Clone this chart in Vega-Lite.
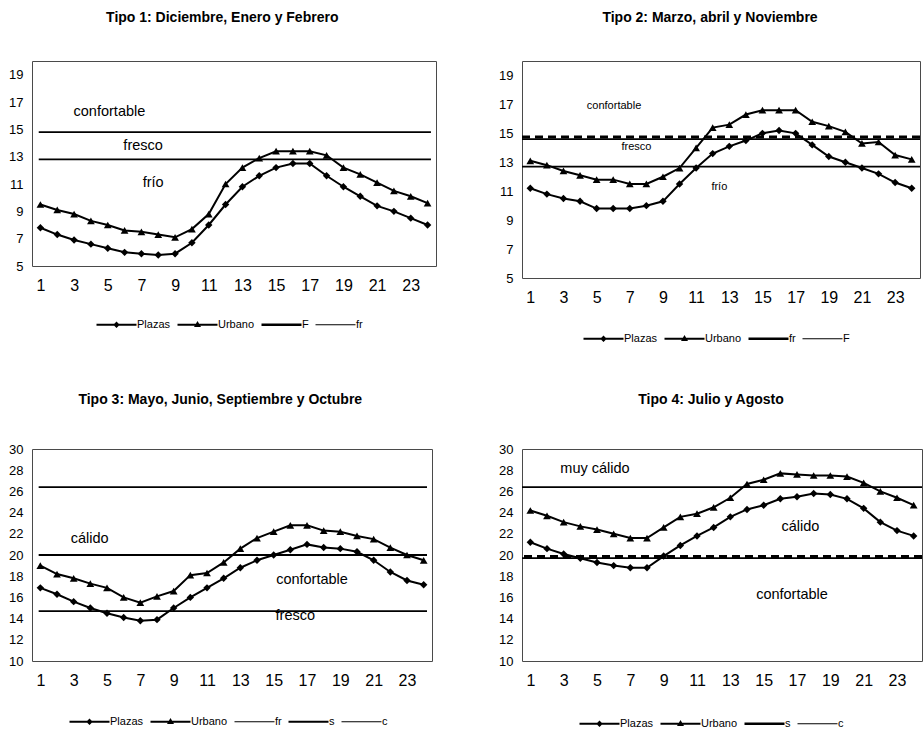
{
  "$schema": "https://vega.github.io/schema/vega-lite/v6.json",
  "background": "white",
  "padding": {"left": 8, "top": 10, "right": 0, "bottom": 0},
  "config": {
    "font": "Liberation Sans",
    "view": {"stroke": "#4a4a4a", "strokeWidth": 1},
    "axis": {"domain": false, "ticks": false, "grid": false, "labelColor": "black", "labelFont": "Liberation Sans", "labelFlush": false, "labelOverlap": false},
    "axisX": {"labelFontSize": 16, "labelPadding": 11},
    "axisY": {"labelFontSize": 13, "labelPadding": 9},
    "title": {"fontSize": 14, "fontWeight": "bold", "color": "black", "offset": 36, "anchor": "middle", "frame": "bounds", "font": "Liberation Sans"},
    "legend": {"labelFontSize": 11, "labelColor": "black", "labelFont": "Liberation Sans", "labelOffset": 15, "columnPadding": 4, "symbolSize": 100, "symbolStrokeWidth": 1, "symbolStrokeColor": "black", "symbolFillColor": "black", "orient": "none", "direction": "horizontal"}
  },
  "datasets": {
    "p1": [
      {"h":1,"s":"Plazas","t":7.8},{"h":2,"s":"Plazas","t":7.3},{"h":3,"s":"Plazas","t":6.9},{"h":4,"s":"Plazas","t":6.6},{"h":5,"s":"Plazas","t":6.3},{"h":6,"s":"Plazas","t":6.0},{"h":7,"s":"Plazas","t":5.9},{"h":8,"s":"Plazas","t":5.8},{"h":9,"s":"Plazas","t":5.9},{"h":10,"s":"Plazas","t":6.7},{"h":11,"s":"Plazas","t":8.0},{"h":12,"s":"Plazas","t":9.5},{"h":13,"s":"Plazas","t":10.8},{"h":14,"s":"Plazas","t":11.6},{"h":15,"s":"Plazas","t":12.2},{"h":16,"s":"Plazas","t":12.5},{"h":17,"s":"Plazas","t":12.5},{"h":18,"s":"Plazas","t":11.6},{"h":19,"s":"Plazas","t":10.8},{"h":20,"s":"Plazas","t":10.1},{"h":21,"s":"Plazas","t":9.4},{"h":22,"s":"Plazas","t":9.0},{"h":23,"s":"Plazas","t":8.5},{"h":24,"s":"Plazas","t":8.0},
      {"h":1,"s":"Urbano","t":9.5},{"h":2,"s":"Urbano","t":9.1},{"h":3,"s":"Urbano","t":8.8},{"h":4,"s":"Urbano","t":8.3},{"h":5,"s":"Urbano","t":8.0},{"h":6,"s":"Urbano","t":7.6},{"h":7,"s":"Urbano","t":7.5},{"h":8,"s":"Urbano","t":7.3},{"h":9,"s":"Urbano","t":7.1},{"h":10,"s":"Urbano","t":7.7},{"h":11,"s":"Urbano","t":8.8},{"h":12,"s":"Urbano","t":11.0},{"h":13,"s":"Urbano","t":12.2},{"h":14,"s":"Urbano","t":12.9},{"h":15,"s":"Urbano","t":13.4},{"h":16,"s":"Urbano","t":13.4},{"h":17,"s":"Urbano","t":13.4},{"h":18,"s":"Urbano","t":13.1},{"h":19,"s":"Urbano","t":12.2},{"h":20,"s":"Urbano","t":11.7},{"h":21,"s":"Urbano","t":11.1},{"h":22,"s":"Urbano","t":10.5},{"h":23,"s":"Urbano","t":10.1},{"h":24,"s":"Urbano","t":9.6}
    ],
    "p2": [
      {"h":1,"s":"Plazas","t":11.2},{"h":2,"s":"Plazas","t":10.8},{"h":3,"s":"Plazas","t":10.5},{"h":4,"s":"Plazas","t":10.3},{"h":5,"s":"Plazas","t":9.8},{"h":6,"s":"Plazas","t":9.8},{"h":7,"s":"Plazas","t":9.8},{"h":8,"s":"Plazas","t":10.0},{"h":9,"s":"Plazas","t":10.3},{"h":10,"s":"Plazas","t":11.5},{"h":11,"s":"Plazas","t":12.6},{"h":12,"s":"Plazas","t":13.6},{"h":13,"s":"Plazas","t":14.1},{"h":14,"s":"Plazas","t":14.5},{"h":15,"s":"Plazas","t":15.0},{"h":16,"s":"Plazas","t":15.2},{"h":17,"s":"Plazas","t":15.0},{"h":18,"s":"Plazas","t":14.2},{"h":19,"s":"Plazas","t":13.4},{"h":20,"s":"Plazas","t":13.0},{"h":21,"s":"Plazas","t":12.6},{"h":22,"s":"Plazas","t":12.2},{"h":23,"s":"Plazas","t":11.6},{"h":24,"s":"Plazas","t":11.2},
      {"h":1,"s":"Urbano","t":13.1},{"h":2,"s":"Urbano","t":12.8},{"h":3,"s":"Urbano","t":12.4},{"h":4,"s":"Urbano","t":12.1},{"h":5,"s":"Urbano","t":11.8},{"h":6,"s":"Urbano","t":11.8},{"h":7,"s":"Urbano","t":11.5},{"h":8,"s":"Urbano","t":11.5},{"h":9,"s":"Urbano","t":12.0},{"h":10,"s":"Urbano","t":12.6},{"h":11,"s":"Urbano","t":14.0},{"h":12,"s":"Urbano","t":15.4},{"h":13,"s":"Urbano","t":15.6},{"h":14,"s":"Urbano","t":16.3},{"h":15,"s":"Urbano","t":16.6},{"h":16,"s":"Urbano","t":16.6},{"h":17,"s":"Urbano","t":16.6},{"h":18,"s":"Urbano","t":15.8},{"h":19,"s":"Urbano","t":15.5},{"h":20,"s":"Urbano","t":15.1},{"h":21,"s":"Urbano","t":14.3},{"h":22,"s":"Urbano","t":14.4},{"h":23,"s":"Urbano","t":13.5},{"h":24,"s":"Urbano","t":13.2}
    ],
    "p3": [
      {"h":1,"s":"Plazas","t":16.9},{"h":2,"s":"Plazas","t":16.3},{"h":3,"s":"Plazas","t":15.6},{"h":4,"s":"Plazas","t":15.0},{"h":5,"s":"Plazas","t":14.5},{"h":6,"s":"Plazas","t":14.1},{"h":7,"s":"Plazas","t":13.8},{"h":8,"s":"Plazas","t":13.9},{"h":9,"s":"Plazas","t":15.0},{"h":10,"s":"Plazas","t":16.0},{"h":11,"s":"Plazas","t":16.9},{"h":12,"s":"Plazas","t":17.8},{"h":13,"s":"Plazas","t":18.8},{"h":14,"s":"Plazas","t":19.5},{"h":15,"s":"Plazas","t":20.0},{"h":16,"s":"Plazas","t":20.5},{"h":17,"s":"Plazas","t":21.0},{"h":18,"s":"Plazas","t":20.7},{"h":19,"s":"Plazas","t":20.6},{"h":20,"s":"Plazas","t":20.3},{"h":21,"s":"Plazas","t":19.5},{"h":22,"s":"Plazas","t":18.4},{"h":23,"s":"Plazas","t":17.6},{"h":24,"s":"Plazas","t":17.2},
      {"h":1,"s":"Urbano","t":19.0},{"h":2,"s":"Urbano","t":18.2},{"h":3,"s":"Urbano","t":17.8},{"h":4,"s":"Urbano","t":17.3},{"h":5,"s":"Urbano","t":16.9},{"h":6,"s":"Urbano","t":16.0},{"h":7,"s":"Urbano","t":15.5},{"h":8,"s":"Urbano","t":16.1},{"h":9,"s":"Urbano","t":16.6},{"h":10,"s":"Urbano","t":18.1},{"h":11,"s":"Urbano","t":18.3},{"h":12,"s":"Urbano","t":19.3},{"h":13,"s":"Urbano","t":20.6},{"h":14,"s":"Urbano","t":21.6},{"h":15,"s":"Urbano","t":22.2},{"h":16,"s":"Urbano","t":22.8},{"h":17,"s":"Urbano","t":22.8},{"h":18,"s":"Urbano","t":22.3},{"h":19,"s":"Urbano","t":22.2},{"h":20,"s":"Urbano","t":21.8},{"h":21,"s":"Urbano","t":21.5},{"h":22,"s":"Urbano","t":20.7},{"h":23,"s":"Urbano","t":20.0},{"h":24,"s":"Urbano","t":19.5}
    ],
    "p4": [
      {"h":1,"s":"Plazas","t":21.2},{"h":2,"s":"Plazas","t":20.6},{"h":3,"s":"Plazas","t":20.1},{"h":4,"s":"Plazas","t":19.7},{"h":5,"s":"Plazas","t":19.3},{"h":6,"s":"Plazas","t":19.0},{"h":7,"s":"Plazas","t":18.8},{"h":8,"s":"Plazas","t":18.8},{"h":9,"s":"Plazas","t":19.9},{"h":10,"s":"Plazas","t":20.9},{"h":11,"s":"Plazas","t":21.8},{"h":12,"s":"Plazas","t":22.6},{"h":13,"s":"Plazas","t":23.6},{"h":14,"s":"Plazas","t":24.3},{"h":15,"s":"Plazas","t":24.7},{"h":16,"s":"Plazas","t":25.3},{"h":17,"s":"Plazas","t":25.5},{"h":18,"s":"Plazas","t":25.8},{"h":19,"s":"Plazas","t":25.7},{"h":20,"s":"Plazas","t":25.3},{"h":21,"s":"Plazas","t":24.4},{"h":22,"s":"Plazas","t":23.1},{"h":23,"s":"Plazas","t":22.3},{"h":24,"s":"Plazas","t":21.8},
      {"h":1,"s":"Urbano","t":24.2},{"h":2,"s":"Urbano","t":23.7},{"h":3,"s":"Urbano","t":23.1},{"h":4,"s":"Urbano","t":22.7},{"h":5,"s":"Urbano","t":22.4},{"h":6,"s":"Urbano","t":22.0},{"h":7,"s":"Urbano","t":21.6},{"h":8,"s":"Urbano","t":21.6},{"h":9,"s":"Urbano","t":22.6},{"h":10,"s":"Urbano","t":23.6},{"h":11,"s":"Urbano","t":23.9},{"h":12,"s":"Urbano","t":24.5},{"h":13,"s":"Urbano","t":25.4},{"h":14,"s":"Urbano","t":26.7},{"h":15,"s":"Urbano","t":27.1},{"h":16,"s":"Urbano","t":27.7},{"h":17,"s":"Urbano","t":27.6},{"h":18,"s":"Urbano","t":27.5},{"h":19,"s":"Urbano","t":27.5},{"h":20,"s":"Urbano","t":27.4},{"h":21,"s":"Urbano","t":26.8},{"h":22,"s":"Urbano","t":26.0},{"h":23,"s":"Urbano","t":25.4},{"h":24,"s":"Urbano","t":24.7}
    ],
    "r1": [{"n":"F","t":14.8},{"n":"fr","t":12.8}],
    "r2": [{"n":"fr","t":14.75},{"n":"F","t":14.6},{"n":"F","t":12.7}],
    "r3": [{"n":"c","t":26.4},{"n":"s","t":20.0},{"n":"fr","t":14.7}],
    "r4": [{"n":"c","t":26.4},{"n":"s","t":19.85},{"n":"c","t":19.7}],
    "t1": [{"label":"confortable","h":5.1,"t":16.3},{"label":"fresco","h":7.1,"t":13.8},{"label":"frío","h":7.7,"t":11.05}],
    "t2": [{"label":"confortable","h":6.05,"t":16.9},{"label":"fresco","h":7.4,"t":14.05},{"label":"frío","h":12.4,"t":11.3}],
    "t3": [{"label":"cálido","h":3.96,"t":21.5},{"label":"confortable","h":17.3,"t":17.6},{"label":"fresco","h":16.3,"t":14.2}],
    "t4": [{"label":"muy cálido","h":4.88,"t":28.1},{"label":"cálido","h":17.2,"t":22.6},{"label":"confortable","h":16.7,"t":16.2}],
    "leg": [{"s":"Plazas"},{"s":"Urbano"},{"s":"F"},{"s":"fr"},{"s":"s"},{"s":"c"}]
  },
  "columns": 2,
  "bounds": "flush",
  "spacing": {"row": 171, "column": 86},
  "resolve": {"scale": {"x": "independent", "y": "independent", "shape": "independent"}, "axis": {"x": "independent", "y": "independent"}, "legend": {"shape": "independent"}},
  "concat": [
    {
      "width": 404, "height": 205,
      "title": "Tipo 1: Diciembre, Enero y Febrero",
      "layer": [
        {"data": {"name": "r1"}, "mark": {"type": "rule", "color": "black", "strokeWidth": 1.8}, "encoding": {"x": {"datum": 0.9, "type": "quantitative", "scale": {"domain": [0.5, 24.5], "nice": false, "zero": false}, "axis": {"values": [1,3,5,7,9,11,13,15,17,19,21,23], "title": null, "labelOverlap": false}}, "x2": {"datum": 24.2}, "y": {"field": "t", "type": "quantitative", "scale": {"domain": [5, 20], "nice": false, "zero": false}, "axis": {"values": [5,7,9,11,13,15,17,19], "title": null, "labelOverlap": false}}}},
        {"data": {"name": "p1"}, "mark": {"type": "line", "color": "black", "strokeWidth": 2},
         "encoding": {
           "x": {"field": "h", "type": "quantitative", "scale": {"domain": [0.5, 24.5], "nice": false, "zero": false}, "axis": {"values": [1,3,5,7,9,11,13,15,17,19,21,23], "title": null, "labelOverlap": false}},
           "y": {"field": "t", "type": "quantitative", "scale": {"domain": [5, 20], "nice": false, "zero": false}, "axis": {"values": [5,7,9,11,13,15,17,19], "title": null, "labelOverlap": false}},
           "detail": {"field": "s"}}},
        {"data": {"name": "p1"}, "transform": [{"filter": "datum.s === 'Plazas'"}], "mark": {"type": "point", "shape": "diamond", "filled": true, "color": "black", "opacity": 1, "size": 55},
         "encoding": {"x": {"field": "h", "type": "quantitative", "scale": {"domain": [0.5, 24.5], "nice": false, "zero": false}, "axis": {"values": [1,3,5,7,9,11,13,15,17,19,21,23], "title": null, "labelOverlap": false}}, "y": {"field": "t", "type": "quantitative", "scale": {"domain": [5, 20], "nice": false, "zero": false}, "axis": {"values": [5,7,9,11,13,15,17,19], "title": null, "labelOverlap": false}}}},
        {"data": {"name": "p1"}, "transform": [{"filter": "datum.s === 'Urbano'"}], "mark": {"type": "point", "shape": "triangle-up", "filled": true, "color": "black", "opacity": 1, "size": 60},
         "encoding": {"x": {"field": "h", "type": "quantitative", "scale": {"domain": [0.5, 24.5], "nice": false, "zero": false}, "axis": {"values": [1,3,5,7,9,11,13,15,17,19,21,23], "title": null, "labelOverlap": false}}, "y": {"field": "t", "type": "quantitative", "scale": {"domain": [5, 20], "nice": false, "zero": false}, "axis": {"values": [5,7,9,11,13,15,17,19], "title": null, "labelOverlap": false}}}},
        {"data": {"name": "t1"}, "mark": {"type": "text", "fontSize": 14.5, "color": "black", "font": "Liberation Sans"},
         "encoding": {"x": {"field": "h", "type": "quantitative", "scale": {"domain": [0.5, 24.5], "nice": false, "zero": false}, "axis": {"values": [1,3,5,7,9,11,13,15,17,19,21,23], "title": null, "labelOverlap": false}}, "y": {"field": "t", "type": "quantitative", "scale": {"domain": [5, 20], "nice": false, "zero": false}, "axis": {"values": [5,7,9,11,13,15,17,19], "title": null, "labelOverlap": false}}, "text": {"field": "label"}}},
        {"data": {"name": "leg"}, "mark": {"type": "point", "opacity": 0, "filled": true, "color": "black", "size": 100},
         "encoding": {"shape": {"field": "s", "type": "nominal", "scale": {"domain": ["Plazas", "Urbano", "F", "fr"], "range": ["M-4,-0.2H4V0.2H-4Z M0,-0.65L0.65,0L0,0.65L-0.65,0Z", "M-4,-0.2H4V0.2H-4Z M0,-0.75L0.7,0.45L-0.7,0.45Z", "M-4,-0.25H4V0.25H-4Z", "M-4,-0.12H4V0.12H-4Z"]}, "legend": {"title": null, "orient": "none", "legendX": 79, "legendY": 258, "direction": "horizontal"}}}}
      ]
    },
    {
      "width": 398, "height": 217,
      "title": "Tipo 2: Marzo, abril y Noviembre",
      "layer": [
        {"data": {"name": "r2"}, "transform": [{"filter": "datum.n === 'F'"}], "mark": {"type": "rule", "color": "black", "strokeWidth": 1.6}, "encoding": {"y": {"field": "t", "type": "quantitative", "scale": {"domain": [5, 20], "nice": false, "zero": false}, "axis": {"values": [5,7,9,11,13,15,17,19], "title": null, "labelOverlap": false}}}},
        {"data": {"name": "r2"}, "transform": [{"filter": "datum.n === 'fr'"}], "mark": {"type": "rule", "color": "black", "strokeWidth": 3, "strokeDash": [8, 5]}, "encoding": {"y": {"field": "t", "type": "quantitative", "scale": {"domain": [5, 20], "nice": false, "zero": false}, "axis": {"values": [5,7,9,11,13,15,17,19], "title": null, "labelOverlap": false}}}},
        {"data": {"name": "p2"}, "mark": {"type": "line", "color": "black", "strokeWidth": 2},
         "encoding": {
           "x": {"field": "h", "type": "quantitative", "scale": {"domain": [0.5, 24.5], "nice": false, "zero": false}, "axis": {"values": [1,3,5,7,9,11,13,15,17,19,21,23], "title": null, "labelOverlap": false}},
           "y": {"field": "t", "type": "quantitative", "scale": {"domain": [5, 20], "nice": false, "zero": false}, "axis": {"values": [5,7,9,11,13,15,17,19], "title": null, "labelOverlap": false}},
           "detail": {"field": "s"}}},
        {"data": {"name": "p2"}, "transform": [{"filter": "datum.s === 'Plazas'"}], "mark": {"type": "point", "shape": "diamond", "filled": true, "color": "black", "opacity": 1, "size": 55},
         "encoding": {"x": {"field": "h", "type": "quantitative", "scale": {"domain": [0.5, 24.5], "nice": false, "zero": false}, "axis": {"values": [1,3,5,7,9,11,13,15,17,19,21,23], "title": null, "labelOverlap": false}}, "y": {"field": "t", "type": "quantitative", "scale": {"domain": [5, 20], "nice": false, "zero": false}, "axis": {"values": [5,7,9,11,13,15,17,19], "title": null, "labelOverlap": false}}}},
        {"data": {"name": "p2"}, "transform": [{"filter": "datum.s === 'Urbano'"}], "mark": {"type": "point", "shape": "triangle-up", "filled": true, "color": "black", "opacity": 1, "size": 60},
         "encoding": {"x": {"field": "h", "type": "quantitative", "scale": {"domain": [0.5, 24.5], "nice": false, "zero": false}, "axis": {"values": [1,3,5,7,9,11,13,15,17,19,21,23], "title": null, "labelOverlap": false}}, "y": {"field": "t", "type": "quantitative", "scale": {"domain": [5, 20], "nice": false, "zero": false}, "axis": {"values": [5,7,9,11,13,15,17,19], "title": null, "labelOverlap": false}}}},
        {"data": {"name": "t2"}, "mark": {"type": "text", "fontSize": 11, "color": "black", "font": "Liberation Sans"},
         "encoding": {"x": {"field": "h", "type": "quantitative", "scale": {"domain": [0.5, 24.5], "nice": false, "zero": false}, "axis": {"values": [1,3,5,7,9,11,13,15,17,19,21,23], "title": null, "labelOverlap": false}}, "y": {"field": "t", "type": "quantitative", "scale": {"domain": [5, 20], "nice": false, "zero": false}, "axis": {"values": [5,7,9,11,13,15,17,19], "title": null, "labelOverlap": false}}, "text": {"field": "label"}}},
        {"data": {"name": "leg"}, "mark": {"type": "point", "opacity": 0, "filled": true, "color": "black", "size": 100},
         "encoding": {"shape": {"field": "s", "type": "nominal", "scale": {"domain": ["Plazas", "Urbano", "fr", "F"], "range": ["M-4,-0.2H4V0.2H-4Z M0,-0.65L0.65,0L0,0.65L-0.65,0Z", "M-4,-0.2H4V0.2H-4Z M0,-0.75L0.7,0.45L-0.7,0.45Z", "M-4,-0.25H4V0.25H-4Z", "M-4,-0.12H4V0.12H-4Z"]}, "legend": {"title": null, "orient": "none", "legendX": 76, "legendY": 272, "direction": "horizontal"}}}}
      ]
    },
    {
      "width": 400, "height": 212,
      "title": "Tipo 3: Mayo, Junio, Septiembre y Octubre",
      "layer": [
        {"data": {"name": "r3"}, "mark": {"type": "rule", "color": "black", "strokeWidth": 1.8}, "encoding": {"x": {"datum": 0.9, "type": "quantitative", "scale": {"domain": [0.5, 24.5], "nice": false, "zero": false}, "axis": {"values": [1,3,5,7,9,11,13,15,17,19,21,23], "title": null, "labelOverlap": false}}, "x2": {"datum": 24.2}, "y": {"field": "t", "type": "quantitative", "scale": {"domain": [10, 30], "nice": false, "zero": false}, "axis": {"values": [10,12,14,16,18,20,22,24,26,28,30], "title": null, "labelOverlap": false}}}},
        {"data": {"name": "p3"}, "mark": {"type": "line", "color": "black", "strokeWidth": 2},
         "encoding": {
           "x": {"field": "h", "type": "quantitative", "scale": {"domain": [0.5, 24.5], "nice": false, "zero": false}, "axis": {"values": [1,3,5,7,9,11,13,15,17,19,21,23], "title": null, "labelOverlap": false}},
           "y": {"field": "t", "type": "quantitative", "scale": {"domain": [10, 30], "nice": false, "zero": false}, "axis": {"values": [10,12,14,16,18,20,22,24,26,28,30], "title": null, "labelOverlap": false}},
           "detail": {"field": "s"}}},
        {"data": {"name": "p3"}, "transform": [{"filter": "datum.s === 'Plazas'"}], "mark": {"type": "point", "shape": "diamond", "filled": true, "color": "black", "opacity": 1, "size": 55},
         "encoding": {"x": {"field": "h", "type": "quantitative", "scale": {"domain": [0.5, 24.5], "nice": false, "zero": false}, "axis": {"values": [1,3,5,7,9,11,13,15,17,19,21,23], "title": null, "labelOverlap": false}}, "y": {"field": "t", "type": "quantitative", "scale": {"domain": [10, 30], "nice": false, "zero": false}, "axis": {"values": [10,12,14,16,18,20,22,24,26,28,30], "title": null, "labelOverlap": false}}}},
        {"data": {"name": "p3"}, "transform": [{"filter": "datum.s === 'Urbano'"}], "mark": {"type": "point", "shape": "triangle-up", "filled": true, "color": "black", "opacity": 1, "size": 60},
         "encoding": {"x": {"field": "h", "type": "quantitative", "scale": {"domain": [0.5, 24.5], "nice": false, "zero": false}, "axis": {"values": [1,3,5,7,9,11,13,15,17,19,21,23], "title": null, "labelOverlap": false}}, "y": {"field": "t", "type": "quantitative", "scale": {"domain": [10, 30], "nice": false, "zero": false}, "axis": {"values": [10,12,14,16,18,20,22,24,26,28,30], "title": null, "labelOverlap": false}}}},
        {"data": {"name": "t3"}, "mark": {"type": "text", "fontSize": 14.5, "color": "black", "font": "Liberation Sans"},
         "encoding": {"x": {"field": "h", "type": "quantitative", "scale": {"domain": [0.5, 24.5], "nice": false, "zero": false}, "axis": {"values": [1,3,5,7,9,11,13,15,17,19,21,23], "title": null, "labelOverlap": false}}, "y": {"field": "t", "type": "quantitative", "scale": {"domain": [10, 30], "nice": false, "zero": false}, "axis": {"values": [10,12,14,16,18,20,22,24,26,28,30], "title": null, "labelOverlap": false}}, "text": {"field": "label"}}},
        {"data": {"name": "leg"}, "mark": {"type": "point", "opacity": 0, "filled": true, "color": "black", "size": 100},
         "encoding": {"shape": {"field": "s", "type": "nominal", "scale": {"domain": ["Plazas", "Urbano", "fr", "s", "c"], "range": ["M-4,-0.2H4V0.2H-4Z M0,-0.65L0.65,0L0,0.65L-0.65,0Z", "M-4,-0.2H4V0.2H-4Z M0,-0.75L0.7,0.45L-0.7,0.45Z", "M-4,-0.12H4V0.12H-4Z", "M-4,-0.2H4V0.2H-4Z", "M-4,-0.12H4V0.12H-4Z"]}, "legend": {"title": null, "orient": "none", "legendX": 52, "legendY": 267, "direction": "horizontal"}}}}
      ]
    },
    {
      "width": 400, "height": 212,
      "title": "Tipo 4: Julio y Agosto",
      "layer": [
        {"data": {"name": "r4"}, "transform": [{"filter": "datum.n === 'c'"}], "mark": {"type": "rule", "color": "black", "strokeWidth": 1.8}, "encoding": {"y": {"field": "t", "type": "quantitative", "scale": {"domain": [10, 30], "nice": false, "zero": false}, "axis": {"values": [10,12,14,16,18,20,22,24,26,28,30], "title": null, "labelOverlap": false}}}},
        {"data": {"name": "r4"}, "transform": [{"filter": "datum.n === 's'"}], "mark": {"type": "rule", "color": "black", "strokeWidth": 3, "strokeDash": [8, 5]}, "encoding": {"y": {"field": "t", "type": "quantitative", "scale": {"domain": [10, 30], "nice": false, "zero": false}, "axis": {"values": [10,12,14,16,18,20,22,24,26,28,30], "title": null, "labelOverlap": false}}}},
        {"data": {"name": "p4"}, "mark": {"type": "line", "color": "black", "strokeWidth": 2},
         "encoding": {
           "x": {"field": "h", "type": "quantitative", "scale": {"domain": [0.5, 24.5], "nice": false, "zero": false}, "axis": {"values": [1,3,5,7,9,11,13,15,17,19,21,23], "title": null, "labelOverlap": false}},
           "y": {"field": "t", "type": "quantitative", "scale": {"domain": [10, 30], "nice": false, "zero": false}, "axis": {"values": [10,12,14,16,18,20,22,24,26,28,30], "title": null, "labelOverlap": false}},
           "detail": {"field": "s"}}},
        {"data": {"name": "p4"}, "transform": [{"filter": "datum.s === 'Plazas'"}], "mark": {"type": "point", "shape": "diamond", "filled": true, "color": "black", "opacity": 1, "size": 55},
         "encoding": {"x": {"field": "h", "type": "quantitative", "scale": {"domain": [0.5, 24.5], "nice": false, "zero": false}, "axis": {"values": [1,3,5,7,9,11,13,15,17,19,21,23], "title": null, "labelOverlap": false}}, "y": {"field": "t", "type": "quantitative", "scale": {"domain": [10, 30], "nice": false, "zero": false}, "axis": {"values": [10,12,14,16,18,20,22,24,26,28,30], "title": null, "labelOverlap": false}}}},
        {"data": {"name": "p4"}, "transform": [{"filter": "datum.s === 'Urbano'"}], "mark": {"type": "point", "shape": "triangle-up", "filled": true, "color": "black", "opacity": 1, "size": 60},
         "encoding": {"x": {"field": "h", "type": "quantitative", "scale": {"domain": [0.5, 24.5], "nice": false, "zero": false}, "axis": {"values": [1,3,5,7,9,11,13,15,17,19,21,23], "title": null, "labelOverlap": false}}, "y": {"field": "t", "type": "quantitative", "scale": {"domain": [10, 30], "nice": false, "zero": false}, "axis": {"values": [10,12,14,16,18,20,22,24,26,28,30], "title": null, "labelOverlap": false}}}},
        {"data": {"name": "t4"}, "mark": {"type": "text", "fontSize": 14.5, "color": "black", "font": "Liberation Sans"},
         "encoding": {"x": {"field": "h", "type": "quantitative", "scale": {"domain": [0.5, 24.5], "nice": false, "zero": false}, "axis": {"values": [1,3,5,7,9,11,13,15,17,19,21,23], "title": null, "labelOverlap": false}}, "y": {"field": "t", "type": "quantitative", "scale": {"domain": [10, 30], "nice": false, "zero": false}, "axis": {"values": [10,12,14,16,18,20,22,24,26,28,30], "title": null, "labelOverlap": false}}, "text": {"field": "label"}}},
        {"data": {"name": "leg"}, "mark": {"type": "point", "opacity": 0, "filled": true, "color": "black", "size": 100},
         "encoding": {"shape": {"field": "s", "type": "nominal", "scale": {"domain": ["Plazas", "Urbano", "s", "c"], "range": ["M-4,-0.2H4V0.2H-4Z M0,-0.65L0.65,0L0,0.65L-0.65,0Z", "M-4,-0.2H4V0.2H-4Z M0,-0.75L0.7,0.45L-0.7,0.45Z", "M-4,-0.25H4V0.25H-4Z", "M-4,-0.12H4V0.12H-4Z"]}, "legend": {"title": null, "orient": "none", "legendX": 72, "legendY": 269, "direction": "horizontal"}}}}
      ]
    }
  ]
}
